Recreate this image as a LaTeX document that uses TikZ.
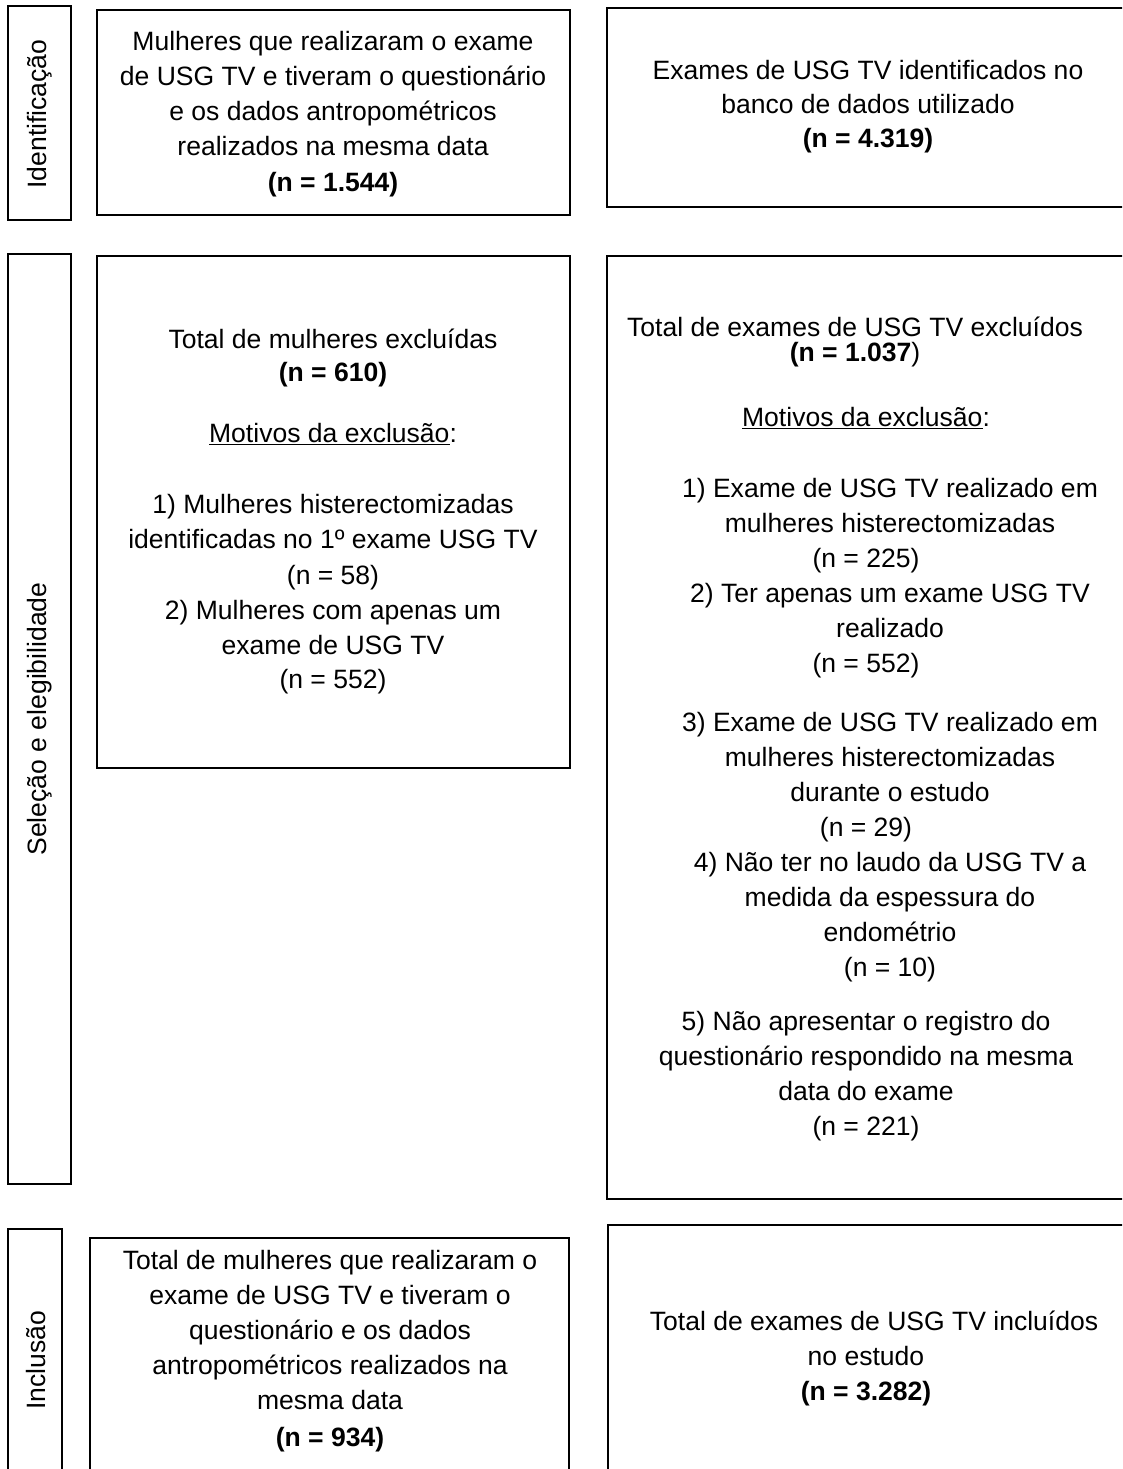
\documentclass[tikz,border=0pt]{standalone}
\usepackage{fontspec}
\setmainfont{Liberation Sans}
\tikzset{
	frame/.style={draw, line width=0.8pt},
	txt/.style={font=\fontsize{15.1}{19.9}\selectfont, inner sep=0pt, anchor=base},
	side/.style={font=\fontsize{15.1}{19.9}\selectfont, inner sep=0pt, rotate=90}
}
\begin{document}
\begin{tikzpicture}[x=0.02cm,y=-0.02cm]
	\useasboundingbox (0,0) rectangle (1122,1469);
	\clip (0,0) rectangle (1122,1469);
	\draw[frame] (8,6) rectangle (71,220);
	\draw[frame] (97,10) rectangle (570,215);
	\draw[frame] (607,8) rectangle (1128,207);
	\draw[frame] (8,254) rectangle (71,1184);
	\draw[frame] (97,256) rectangle (570,768);
	\draw[frame] (607,256) rectangle (1128,1199);
	\draw[frame] (8,1229) rectangle (62,1480);
	\draw[frame] (90,1238) rectangle (569,1480);
	\draw[frame] (608,1225) rectangle (1128,1480);
	\node[side] (lblId) at (40,114) {Identificação};
	\node[side] (lblSel) at (40,719) {Seleção e elegibilidade};
	\node[side] (lblInc) at (36,1360) {Inclusão};
	\node[txt] (a1) at (333,51) {Mulheres que realizaram o exame};
	\node[txt] (a2) at (333,86) {de USG TV e tiveram o questionário};
	\node[txt] (a3) at (333,121) {e os dados antropométricos};
	\node[txt] (a4) at (333,156) {realizados na mesma data};
	\node[txt] (a5) at (333,192) {\bfseries (n = 1.544)};
	\node[txt] (b1) at (868,80) {Exames de USG TV identificados no};
	\node[txt] (b2) at (868,114) {banco de dados utilizado};
	\node[txt] (b3) at (868,148) {\bfseries (n = 4.319)};
	\node[txt] (c1) at (333,349) {Total de mulheres excluídas};
	\node[txt] (c2) at (333,381) {\bfseries (n = 610)};
	\node[txt] (c3) at (333,442) {\underline{Motivos da exclusão}:};
	\node[txt] (c4) at (333,513) {1) Mulheres histerectomizadas};
	\node[txt] (c5) at (333,548) {identificadas no 1º exame USG TV};
	\node[txt] (c6) at (333,584) {(n = 58)};
	\node[txt] (c7) at (333,619) {2) Mulheres com apenas um};
	\node[txt] (c8) at (333,654) {exame de USG TV};
	\node[txt] (c9) at (333,688) {(n = 552)};
	\node[txt] (d1) at (855,337) {Total de exames de USG TV excluídos};
	\node[txt] (d2) at (855,362) {\textbf{(n = 1.037})};
	\node[txt] (d3) at (866,426) {\underline{Motivos da exclusão}:};
	\node[txt] (d4) at (890,497) {1) Exame de USG TV realizado em};
	\node[txt] (d5) at (890,532) {mulheres histerectomizadas};
	\node[txt] (d6) at (866,567) {(n = 225)};
	\node[txt] (d7) at (890,602) {2) Ter apenas um exame USG TV};
	\node[txt] (d8) at (890,637) {realizado};
	\node[txt] (d9) at (866,672) {(n = 552)};
	\node[txt] (d10) at (890,731) {3) Exame de USG TV realizado em};
	\node[txt] (d11) at (890,766) {mulheres histerectomizadas};
	\node[txt] (d12) at (890,801) {durante o estudo};
	\node[txt] (d13) at (866,836) {(n = 29)};
	\node[txt] (d14) at (890,871) {4) Não ter no laudo da USG TV a};
	\node[txt] (d15) at (890,906) {medida da espessura do};
	\node[txt] (d16) at (890,941) {endométrio};
	\node[txt] (d17) at (890,976) {(n = 10)};
	\node[txt] (d18) at (866,1030) {5) Não apresentar o registro do};
	\node[txt] (d19) at (866,1065) {questionário respondido na mesma};
	\node[txt] (d20) at (866,1100) {data do exame};
	\node[txt] (d21) at (866,1135) {(n = 221)};
	\node[txt] (e1) at (330,1269) {Total de mulheres que realizaram o};
	\node[txt] (e2) at (330,1304) {exame de USG TV e tiveram o};
	\node[txt] (e3) at (330,1339) {questionário e os dados};
	\node[txt] (e4) at (330,1374) {antropométricos realizados na};
	\node[txt] (e5) at (330,1409) {mesma data};
	\node[txt] (e6) at (330,1446) {\bfseries (n = 934)};
	\node[txt] (f1) at (874,1330) {Total de exames de USG TV incluídos};
	\node[txt] (f2) at (866,1365) {no estudo};
	\node[txt] (f3) at (866,1400) {\bfseries (n = 3.282)};
\end{tikzpicture}
\end{document}
